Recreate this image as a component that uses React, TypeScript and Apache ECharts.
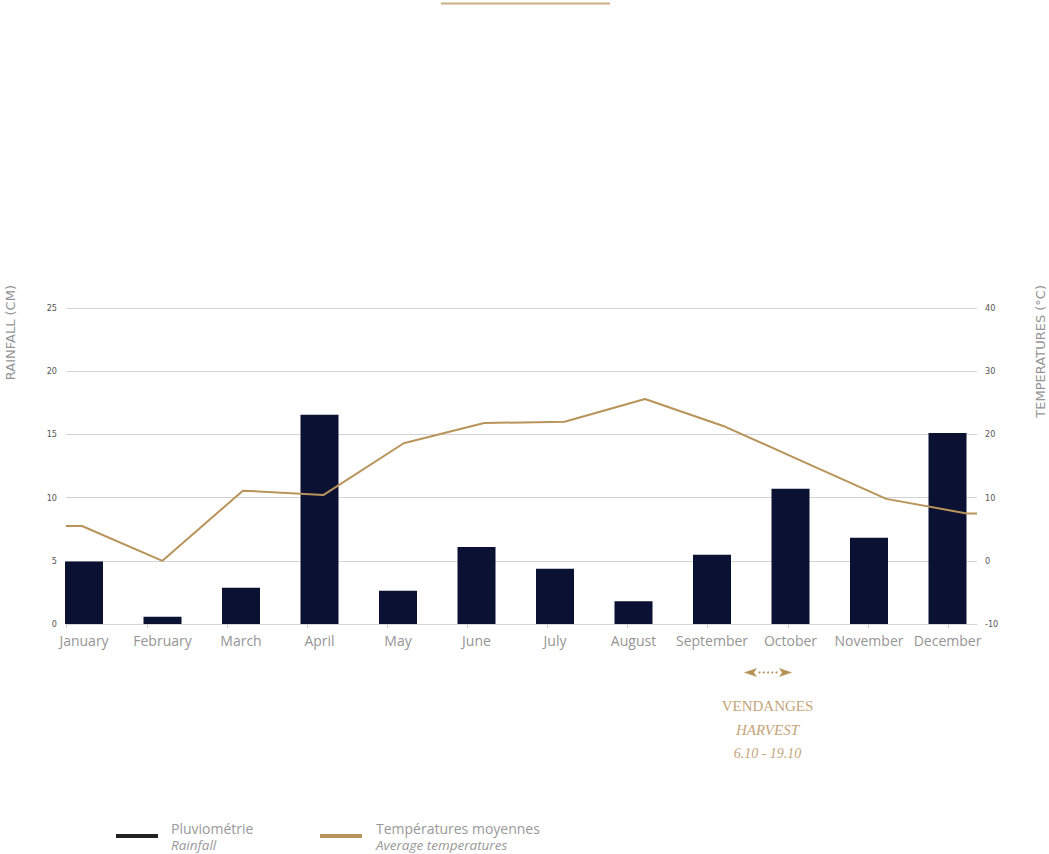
import React, { useEffect, useRef } from "react";
import * as echarts from "echarts";

const months = ["January", "February", "March", "April", "May", "June", "July", "August", "September", "October", "November", "December"];
const rainfall = [4.95, 0.58, 2.87, 16.55, 2.63, 6.1, 4.37, 1.79, 5.48, 10.7, 6.82, 15.12];
const temperatures = [5.5, 0, 11.1, 10.4, 18.6, 21.8, 22.0, 25.6, 21.2, 15.5, 9.8, 7.5];
const rainAxis = { min: 0, max: 25, interval: 5 };
const tempAxis = { min: -10, max: 40, interval: 10 };

const GOLD = "#b8935a";
const NAVY = "#0a1133";
const GRID_TOP = 308;
const GRID_H = 316;
const LINE_X_MIN = -0.199;
const LINE_X_MAX = 11.128;

export default function App() {
  const ref = useRef<HTMLDivElement>(null);
  useEffect(() => {
    document.body.style.margin = "0";
    const chart = echarts.init(ref.current!, null, { renderer: "svg" });
    const lineData = [
      [LINE_X_MIN, temperatures[0]],
      ...temperatures.map((t, i) => [i, t]),
      [LINE_X_MAX, temperatures[temperatures.length - 1]],
    ];
    const tickFont = "'Liberation Sans Narrow', 'DejaVu Sans Condensed', 'DejaVu Sans', sans-serif";
    const textFont = "'Open Sans', Lato, sans-serif";
    const nameFont = "'DejaVu Sans', 'Open Sans', sans-serif";
    const serif = "'Liberation Serif', 'DejaVu Serif', serif";
    chart.setOption({
      animation: false,
      backgroundColor: "#ffffff",
      grid: [
        { left: 66, width: 911, top: GRID_TOP, height: GRID_H },
        { left: 44.75, width: 942, top: GRID_TOP, height: GRID_H },
        { left: 66.7, width: 881.3, top: GRID_TOP, height: GRID_H },
      ],
      xAxis: [
        { gridIndex: 0, type: "value", min: LINE_X_MIN, max: LINE_X_MAX, show: false },
        {
          gridIndex: 1,
          type: "category",
          data: months,
          boundaryGap: true,
          axisLine: { show: false },
          axisTick: { show: false },
          axisLabel: { interval: 0, margin: 9, color: "#959595", fontSize: 14, fontFamily: textFont },
        },
        {
          gridIndex: 2,
          type: "value",
          min: 0,
          max: 11,
          interval: 1,
          axisLine: { show: false },
          axisTick: { show: true, length: 4, lineStyle: { color: "#c8c8c8" } },
          axisLabel: { show: false },
          splitLine: { show: false },
        },
      ],
      yAxis: [
        {
          gridIndex: 0,
          type: "value",
          position: "left",
          ...rainAxis,
          axisLine: { show: false },
          axisTick: { show: false },
          axisLabel: { margin: 9, color: "#555", fontSize: 9, fontFamily: tickFont },
          splitLine: { show: true, lineStyle: { color: "#d3d3d3", width: 1 } },
        },
        {
          gridIndex: 0,
          type: "value",
          position: "right",
          ...tempAxis,
          axisLine: { show: false },
          axisTick: { show: false },
          axisLabel: { margin: 8, color: "#555", fontSize: 9, fontFamily: tickFont },
          splitLine: { show: false },
        },
        { gridIndex: 1, type: "value", ...rainAxis, show: false, splitLine: { show: false } },
        { gridIndex: 2, type: "value", ...rainAxis, show: false, splitLine: { show: false } },
      ],
      series: [
        {
          type: "bar",
          name: "Pluviométrie",
          xAxisIndex: 1,
          yAxisIndex: 2,
          data: rainfall,
          barWidth: 38,
          itemStyle: { color: NAVY },
          z: 2,
        },
        {
          type: "line",
          name: "Températures moyennes",
          xAxisIndex: 0,
          yAxisIndex: 1,
          data: lineData,
          showSymbol: false,
          symbol: "none",
          lineStyle: { color: GOLD, width: 2 },
          z: 3,
        },
      ],
      graphic: [
        { type: "line", shape: { x1: 441, y1: 3.5, x2: 610, y2: 3.5 }, style: { stroke: "#c9ae88", lineWidth: 2 } },
        {
          type: "text",
          x: 10,
          y: 285,
          rotation: Math.PI / 2,
          style: { text: "RAINFALL (CM)", align: "right", verticalAlign: "middle", fill: "#959595", font: `normal 13px ${nameFont}`, lineHeight: 13 },
        },
        {
          type: "text",
          x: 1040,
          y: 285,
          rotation: Math.PI / 2,
          style: { text: "TEMPERATURES (°C)", align: "right", verticalAlign: "middle", fill: "#959595", font: `normal 13px ${nameFont}`, lineHeight: 13 },
        },
        // harvest arrow
        { type: "polygon", shape: { points: [[744, 672.5], [757, 668], [754, 672.5], [757, 677]] }, style: { fill: GOLD } },
        { type: "polygon", shape: { points: [[792, 672.5], [779, 668], [782, 672.5], [779, 677]] }, style: { fill: GOLD } },
        { type: "circle", shape: { cx: 759.5, cy: 672.5, r: 1 }, style: { fill: GOLD } },
        { type: "circle", shape: { cx: 763.7, cy: 672.5, r: 1 }, style: { fill: GOLD } },
        { type: "circle", shape: { cx: 768, cy: 672.5, r: 1 }, style: { fill: GOLD } },
        { type: "circle", shape: { cx: 772.3, cy: 672.5, r: 1 }, style: { fill: GOLD } },
        { type: "circle", shape: { cx: 776.5, cy: 672.5, r: 1 }, style: { fill: GOLD } },
        { type: "text", x: 767.5, y: 706, style: { text: "VENDANGES", align: "center", verticalAlign: "middle", fill: "#c4a57a", font: `15px ${serif}` } },
        { type: "text", x: 767.5, y: 730, style: { text: "HARVEST", align: "center", verticalAlign: "middle", fill: "#c4a57a", font: `italic 15px ${serif}` } },
        { type: "text", x: 767.5, y: 753, style: { text: "6.10 - 19.10", align: "center", verticalAlign: "middle", fill: "#c4a57a", font: `italic 14px ${serif}` } },
        // legend
        { type: "rect", shape: { x: 116, y: 834, width: 42, height: 4 }, style: { fill: "#222222" } },
        { type: "text", x: 171, y: 828, style: { text: "Pluviométrie", verticalAlign: "middle", fill: "#999", font: `14px ${textFont}`, lineHeight: 16 } },
        { type: "text", x: 171, y: 845, style: { text: "Rainfall", verticalAlign: "middle", fill: "#999", font: `italic 13.5px ${textFont}`, lineHeight: 15 } },
        { type: "rect", shape: { x: 320, y: 834, width: 42, height: 4 }, style: { fill: GOLD } },
        { type: "text", x: 376, y: 828, style: { text: "Températures moyennes", verticalAlign: "middle", fill: "#999", font: `14px ${textFont}`, lineHeight: 16 } },
        { type: "text", x: 376, y: 845, style: { text: "Average temperatures", verticalAlign: "middle", fill: "#999", font: `italic 13.5px ${textFont}`, lineHeight: 15 } },
      ],
    });
    return () => chart.dispose();
  }, []);
  return <div ref={ref} style={{ width: 1049, height: 854 }} />;
}
